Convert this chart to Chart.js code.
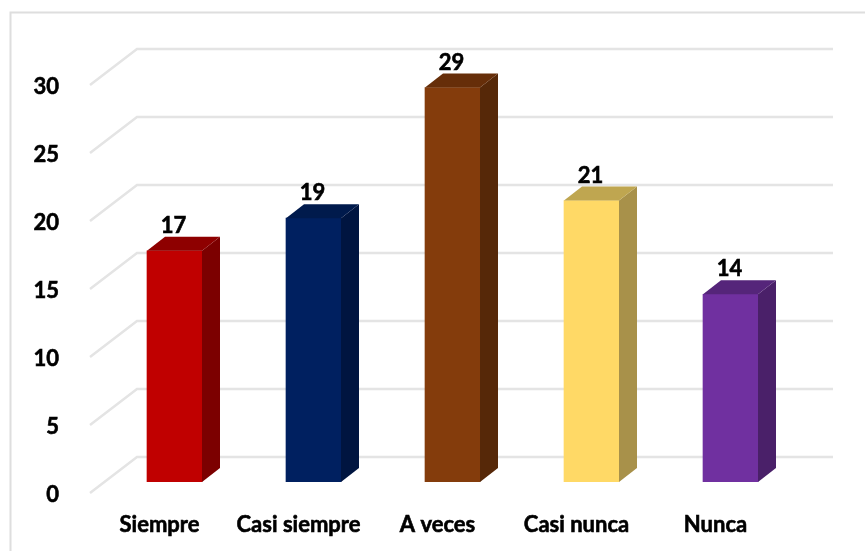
<!DOCTYPE html>
<html>
<head>
<meta charset="utf-8">
<title>Chart</title>
<script src="https://cdn.jsdelivr.net/npm/chart.js@4"></script>
<style>
    html, body { margin: 0; padding: 0; background: #ffffff; }
    canvas { display: block; }
</style>
</head>
<body>
<canvas id="barChart" width="865" height="551"></canvas>
<script>
// Data
const categories = ['Siempre', 'Casi siempre', 'A veces', 'Casi nunca', 'Nunca'];
const values = [17.0, 19.4, 29.0, 20.7, 13.8];
const tickValues = [0, 5, 10, 15, 20, 25, 30];

// Face colours per bar
const frontColors = ['#c00000', '#002060', '#843c0c', '#ffd966', '#7030a0'];
const sideColors = ['#7c0000', '#001540', '#562808', '#a8914a', '#4a2069'];
const topColors = ['#8e0000', '#001a4c', '#662e09', '#bfa650', '#55257a'];

const depthX = 18;
const depthY = 14;

// Back wall lines with the slanted piece on the left
const wallGrid = {
    id: 'wallGrid',
    beforeDraw(chart) {
        const ctx = chart.ctx;
        ctx.save();
        ctx.strokeStyle = '#dedede';
        ctx.lineWidth = 2;
        ctx.beginPath();
        ctx.moveTo(865, 12.5);
        ctx.lineTo(10.5, 12.5);
        ctx.lineTo(10.5, 551);
        ctx.stroke();
        ctx.restore();
    },
    beforeDatasetsDraw(chart) {
        const ctx = chart.ctx;
        const area = chart.chartArea;
        const scale = chart.scales.y;
        ctx.save();
        ctx.strokeStyle = '#e4e4e4';
        ctx.lineWidth = 2.5;
        tickValues.forEach(v => {
            const y = scale.getPixelForValue(v);
            ctx.beginPath();
            ctx.moveTo(area.left - 15, y + 11);
            ctx.lineTo(area.left + 32, y - 25);
            ctx.lineTo(area.right + 33, y - 25);
            ctx.stroke();
        });
        ctx.restore();
    }
};

// Side and top faces plus the rounded value above each bar
const bars3d = {
    id: 'bars3d',
    afterDatasetsDraw(chart) {
        const ctx = chart.ctx;
        const bars = chart.getDatasetMeta(0).data;
        ctx.save();
        bars.forEach((bar, i) => {
            const left = bar.x - bar.width / 2;
            const right = bar.x + bar.width / 2;

            ctx.fillStyle = sideColors[i];
            ctx.beginPath();
            ctx.moveTo(right, bar.y);
            ctx.lineTo(right + depthX, bar.y - depthY);
            ctx.lineTo(right + depthX, bar.base - depthY);
            ctx.lineTo(right, bar.base);
            ctx.closePath();
            ctx.fill();

            ctx.fillStyle = topColors[i];
            ctx.beginPath();
            ctx.moveTo(left, bar.y);
            ctx.lineTo(left + depthX, bar.y - depthY);
            ctx.lineTo(right + depthX, bar.y - depthY);
            ctx.lineTo(right, bar.y);
            ctx.closePath();
            ctx.fill();

            ctx.fillStyle = '#000000';
            ctx.strokeStyle = '#000000';
            ctx.lineWidth = 0.6;
            ctx.font = 'bold 22px Lato';
            ctx.textAlign = 'center';
            ctx.textBaseline = 'middle';
            const labelX = bar.x - 1;
            const labelY = bar.y - depthY - 11;
            ctx.fillText(Math.round(values[i]), labelX, labelY);
            ctx.strokeText(Math.round(values[i]), labelX, labelY);
        });
        ctx.restore();
    }
};

new Chart(document.getElementById('barChart').getContext('2d'), {
    type: 'bar',
    data: {
        labels: categories,
        datasets: [{
            data: values,
            backgroundColor: frontColors,
            barThickness: 55
        }]
    },
    plugins: [wallGrid, bars3d],
    options: {
        responsive: false,
        animation: false,
        layout: { padding: { top: 74, right: 65, left: 0, bottom: 0 } },
        plugins: {
            legend: { display: false },
            tooltip: { enabled: false }
        },
        scales: {
            x: {
                grid: { display: false },
                border: { display: false },
                afterFit(axis) { axis.height = 69; },
                ticks: {
                    color: '#000000',
                    font: { family: 'Lato', size: 22, weight: 'bold' },
                    textStrokeColor: '#000000',
                    textStrokeWidth: 0.6,
                    maxRotation: 0,
                    autoSkip: false,
                    padding: 22,
                    labelOffset: -15
                }
            },
            y: {
                min: 0,
                max: 30,
                grid: { display: false },
                border: { display: false },
                afterFit(axis) { axis.width = 105; },
                afterBuildTicks(axis) { axis.ticks = tickValues.map(v => ({ value: v })); },
                ticks: {
                    color: '#000000',
                    font: { family: 'Lato', size: 22, weight: 'bold' },
                    textStrokeColor: '#000000',
                    textStrokeWidth: 0.6,
                    padding: 38,
                    labelOffset: 13
                }
            }
        }
    }
});
</script>
</body>
</html>
